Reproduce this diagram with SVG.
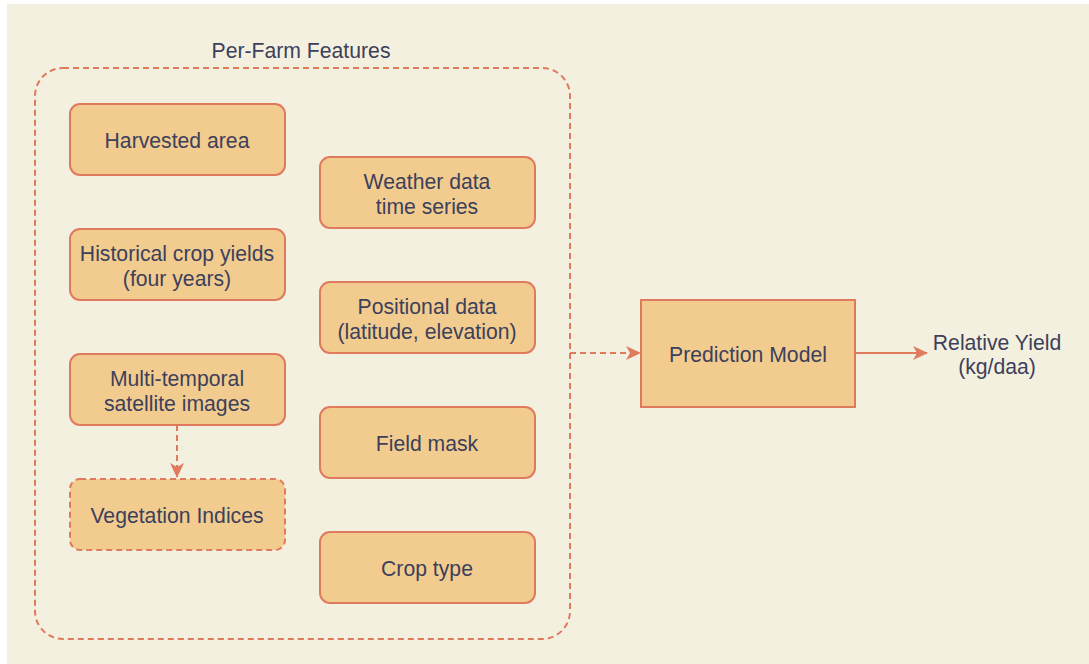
<svg xmlns="http://www.w3.org/2000/svg" width="1089" height="664" viewBox="0 0 1089 664">
  <style>
    .node { fill: #F2CC8F; stroke: #E07A5F; stroke-width: 2; }
    .dashed { stroke-dasharray: 6 4; }
    .label { font-family: "Liberation Sans", Arial, sans-serif; font-size: 21.2px; fill: #3D405B; text-anchor: middle; }
    .edge { fill: none; stroke: #E07A5F; stroke-width: 2; }
  </style>
  <defs>
    <marker id="arrow" viewBox="0 0 15 14" refX="14" refY="7" markerWidth="15" markerHeight="14" markerUnits="userSpaceOnUse" orient="auto">
      <path d="M0,0 L15,7 L0,14 L4,7 Z" fill="#E07A5F"/>
    </marker>
  </defs>

  <!-- canvas -->
  <rect x="0" y="0" width="1089" height="664" fill="#FFFFFF"/>
  <rect x="7" y="4" width="1082" height="660" fill="#F4F0DF"/>

  <!-- feature container -->
  <g id="per-farm-features">
    <rect x="35" y="68" width="535" height="571" rx="28" ry="28" fill="none" stroke="#E07A5F" stroke-width="2" class="dashed"/>
    <text class="label" x="301" y="57.5">Per-Farm Features</text>
  </g>

  <g id="harvested-area">
    <rect class="node" x="70" y="104" width="215" height="71" rx="10"/>
    <text class="label" x="177" y="148">Harvested area</text>
  </g>

  <g id="historical-yields">
    <rect class="node" x="70" y="229" width="215" height="71" rx="10"/>
    <text class="label" x="177" y="261">Historical crop yields</text>
    <text class="label" x="177" y="285.5">(four years)</text>
  </g>

  <g id="satellite-images">
    <rect class="node" x="70" y="354" width="215" height="71" rx="10"/>
    <text class="label" x="177" y="386">Multi-temporal</text>
    <text class="label" x="177" y="410.5">satellite images</text>
  </g>

  <g id="vegetation-indices">
    <rect class="node dashed" x="70" y="479" width="215" height="71" rx="10"/>
    <text class="label" x="177" y="523">Vegetation Indices</text>
  </g>

  <g id="weather-data">
    <rect class="node" x="320" y="157" width="215" height="71" rx="10"/>
    <text class="label" x="427" y="189">Weather data</text>
    <text class="label" x="427" y="213.5">time series</text>
  </g>

  <g id="positional-data">
    <rect class="node" x="320" y="282" width="215" height="71" rx="10"/>
    <text class="label" x="427" y="314">Positional data</text>
    <text class="label" x="427" y="338.5">(latitude, elevation)</text>
  </g>

  <g id="field-mask">
    <rect class="node" x="320" y="407" width="215" height="71" rx="10"/>
    <text class="label" x="427" y="451">Field mask</text>
  </g>

  <g id="crop-type">
    <rect class="node" x="320" y="532" width="215" height="71" rx="10"/>
    <text class="label" x="427" y="576">Crop type</text>
  </g>

  <g id="prediction-model">
    <rect class="node" x="641" y="300" width="214" height="107"/>
    <text class="label" x="748" y="362">Prediction Model</text>
  </g>

  <g id="relative-yield">
    <text class="label" x="997" y="349.5">Relative Yield</text>
    <text class="label" x="997" y="374">(kg/daa)</text>
  </g>

  <!-- connectors -->
  <g id="connectors">
    <path class="edge dashed" d="M177,425 L177,477" marker-end="url(#arrow)"/>
    <path class="edge dashed" d="M570,353 L640,353" marker-end="url(#arrow)"/>
    <path class="edge" d="M855,353 L927,353" marker-end="url(#arrow)"/>
  </g>
</svg>
